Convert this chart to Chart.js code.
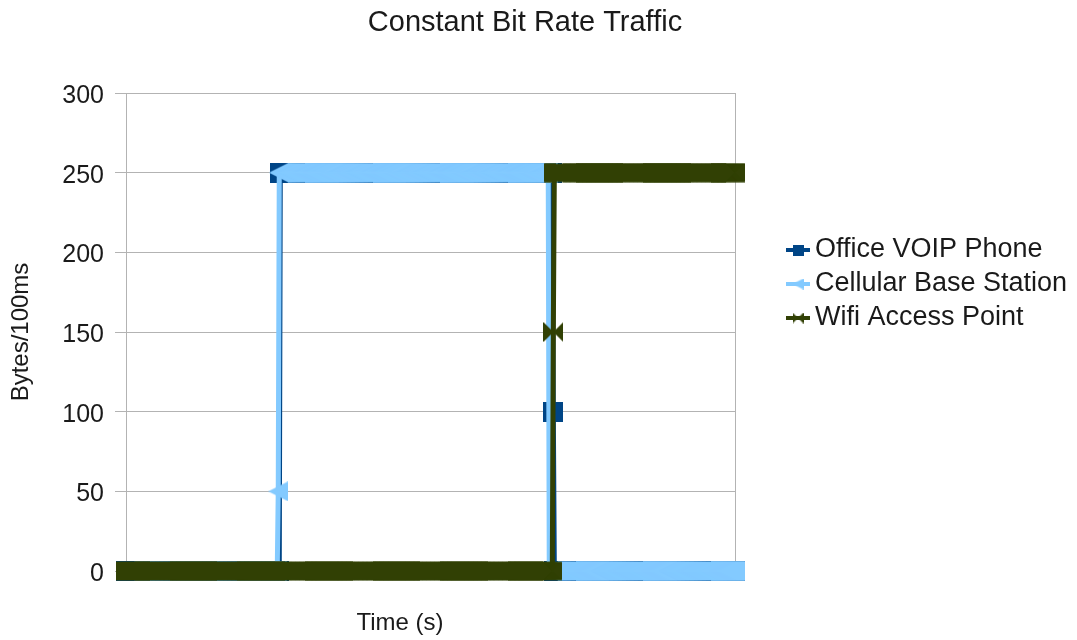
<!DOCTYPE html>
<html>
<head>
<meta charset="utf-8">
<title>Constant Bit Rate Traffic</title>
<script src="https://cdn.jsdelivr.net/npm/chart.js@4/dist/chart.umd.min.js"></script>
<style>
  html, body { margin: 0; padding: 0; background: #ffffff; }
  canvas { display: block; }
</style>
</head>
<body>
<canvas id="chart" width="1077" height="640"></canvas>
<script>
// Bytes per 100 ms sample, one value per time step (25 samples per row)
const voipPhone = [
  0,0,0,0,0,  0,0,0,0,0,  0,0,0,0,0,  0,0,0,0,0,  0,0,0,0,0,
  0,0,0,0,0,  0,0,0,0,0,  0,0,0,0,0,  0,0,0,0,0,  0,0,0,0,0,
  0,0,0,0,0,  0,0,0,0,0,  0,0,0,0,0,  0,0,0,0,0,  0,0,0,0,0,
  0,0,0,0,0,  0,0,0,0,0,  0,0,0,0,0,  0,0,0,0,0,  0,0,0,0,0,
  0,0,0,0,0,  0,0,0,0,0,  0,0,0,0,0,  0,0,0,0,0,  0,0,0,0,0,
  0,0,0,0,0,  0,0,0,0,0,  0,0,0,0,0,  0,0,0,0,0,  0,0,0,0,0,
  0,0,250,250,250,  250,250,250,250,250,  250,250,250,250,250,  250,250,250,250,250,  250,250,250,250,250,
  250,250,250,250,250,  250,250,250,250,250,  250,250,250,250,250,  250,250,250,250,250,  250,250,250,250,250,
  250,250,250,250,250,  250,250,250,250,250,  250,250,250,250,250,  250,250,250,250,250,  250,250,250,250,250,
  250,250,250,250,250,  250,250,250,250,250,  250,250,250,250,250,  250,250,250,250,250,  250,250,250,250,250,
  250,250,250,250,250,  250,250,250,250,250,  250,250,250,250,250,  250,250,250,250,250,  250,250,250,250,250,
  250,250,250,250,250,  250,250,250,250,250,  250,250,250,250,250,  250,250,250,250,250,  250,250,250,250,250,
  250,250,250,250,250,  250,250,250,250,250,  250,250,250,250,250,  250,250,250,250,250,  250,250,250,250,250,
  250,250,250,250,250,  250,250,250,250,250,  250,250,250,250,250,  250,250,250,250,250,  250,250,250,250,250,
  250,250,250,250,250,  250,250,250,250,250,  250,250,250,250,250,  250,250,250,250,250,  250,250,250,250,250,
  250,250,250,250,250,  250,250,250,250,250,  250,250,250,250,250,  250,250,250,250,250,  250,250,250,250,250,
  250,250,250,250,250,  250,250,250,250,250,  250,250,250,250,250,  250,250,250,250,250,  250,100,0,0,0,
  0,0,0,0,0,  0,0,0,0,0,  0,0,0,0,0,  0,0,0,0,0,  0,0,0,0,0,
  0,0,0,0,0,  0,0,0,0,0,  0,0,0,0,0,  0,0,0,0,0,  0,0,0,0,0,
  0,0,0,0,0,  0,0,0,0,0,  0,0,0,0,0,  0,0,0,0,0,  0,0,0,0,0,
  0,0,0,0,0,  0,0,0,0,0,  0,0,0,0,0,  0,0,0,0,0,  0,0,0,0,0,
  0,0,0,0,0,  0,0,0,0,0,  0,0,0,0,0,  0,0,0,0,0,  0,0,0,0,0,
  0,0,0,0,0,  0,0,0,0,0,  0,0,0,0,0,  0,0,0,0,0,  0,0,0,0,0,
  0,0,0,0,0,  0,0,0,0,0,  0,0,0,0,0,  0,0,0,0,0,  0,0,0,0,0,
  0
];

const cellularBase = [
  0,0,0,0,0,  0,0,0,0,0,  0,0,0,0,0,  0,0,0,0,0,  0,0,0,0,0,
  0,0,0,0,0,  0,0,0,0,0,  0,0,0,0,0,  0,0,0,0,0,  0,0,0,0,0,
  0,0,0,0,0,  0,0,0,0,0,  0,0,0,0,0,  0,0,0,0,0,  0,0,0,0,0,
  0,0,0,0,0,  0,0,0,0,0,  0,0,0,0,0,  0,0,0,0,0,  0,0,0,0,0,
  0,0,0,0,0,  0,0,0,0,0,  0,0,0,0,0,  0,0,0,0,0,  0,0,0,0,0,
  0,0,0,0,0,  0,0,0,0,0,  0,0,0,0,0,  0,0,0,0,0,  0,0,0,0,0,
  50,250,250,250,250,  250,250,250,250,250,  250,250,250,250,250,  250,250,250,250,250,  250,250,250,250,250,
  250,250,250,250,250,  250,250,250,250,250,  250,250,250,250,250,  250,250,250,250,250,  250,250,250,250,250,
  250,250,250,250,250,  250,250,250,250,250,  250,250,250,250,250,  250,250,250,250,250,  250,250,250,250,250,
  250,250,250,250,250,  250,250,250,250,250,  250,250,250,250,250,  250,250,250,250,250,  250,250,250,250,250,
  250,250,250,250,250,  250,250,250,250,250,  250,250,250,250,250,  250,250,250,250,250,  250,250,250,250,250,
  250,250,250,250,250,  250,250,250,250,250,  250,250,250,250,250,  250,250,250,250,250,  250,250,250,250,250,
  250,250,250,250,250,  250,250,250,250,250,  250,250,250,250,250,  250,250,250,250,250,  250,250,250,250,250,
  250,250,250,250,250,  250,250,250,250,250,  250,250,250,250,250,  250,250,250,250,250,  250,250,250,250,250,
  250,250,250,250,250,  250,250,250,250,250,  250,250,250,250,250,  250,250,250,250,250,  250,250,250,250,250,
  250,250,250,250,250,  250,250,250,250,250,  250,250,250,250,250,  250,250,250,250,250,  250,250,250,250,250,
  250,250,250,250,250,  250,250,250,250,250,  250,250,250,250,250,  250,250,0,0,0,  0,0,0,0,0,
  0,0,0,0,0,  0,0,0,0,0,  0,0,0,0,0,  0,0,0,0,0,  0,0,0,0,0,
  0,0,0,0,0,  0,0,0,0,0,  0,0,0,0,0,  0,0,0,0,0,  0,0,0,0,0,
  0,0,0,0,0,  0,0,0,0,0,  0,0,0,0,0,  0,0,0,0,0,  0,0,0,0,0,
  0,0,0,0,0,  0,0,0,0,0,  0,0,0,0,0,  0,0,0,0,0,  0,0,0,0,0,
  0,0,0,0,0,  0,0,0,0,0,  0,0,0,0,0,  0,0,0,0,0,  0,0,0,0,0,
  0,0,0,0,0,  0,0,0,0,0,  0,0,0,0,0,  0,0,0,0,0,  0,0,0,0,0,
  0,0,0,0,0,  0,0,0,0,0,  0,0,0,0,0,  0,0,0,0,0,  0,0,0,0,0,
  0
];

const wifiAccess = [
  0,0,0,0,0,  0,0,0,0,0,  0,0,0,0,0,  0,0,0,0,0,  0,0,0,0,0,
  0,0,0,0,0,  0,0,0,0,0,  0,0,0,0,0,  0,0,0,0,0,  0,0,0,0,0,
  0,0,0,0,0,  0,0,0,0,0,  0,0,0,0,0,  0,0,0,0,0,  0,0,0,0,0,
  0,0,0,0,0,  0,0,0,0,0,  0,0,0,0,0,  0,0,0,0,0,  0,0,0,0,0,
  0,0,0,0,0,  0,0,0,0,0,  0,0,0,0,0,  0,0,0,0,0,  0,0,0,0,0,
  0,0,0,0,0,  0,0,0,0,0,  0,0,0,0,0,  0,0,0,0,0,  0,0,0,0,0,
  0,0,0,0,0,  0,0,0,0,0,  0,0,0,0,0,  0,0,0,0,0,  0,0,0,0,0,
  0,0,0,0,0,  0,0,0,0,0,  0,0,0,0,0,  0,0,0,0,0,  0,0,0,0,0,
  0,0,0,0,0,  0,0,0,0,0,  0,0,0,0,0,  0,0,0,0,0,  0,0,0,0,0,
  0,0,0,0,0,  0,0,0,0,0,  0,0,0,0,0,  0,0,0,0,0,  0,0,0,0,0,
  0,0,0,0,0,  0,0,0,0,0,  0,0,0,0,0,  0,0,0,0,0,  0,0,0,0,0,
  0,0,0,0,0,  0,0,0,0,0,  0,0,0,0,0,  0,0,0,0,0,  0,0,0,0,0,
  0,0,0,0,0,  0,0,0,0,0,  0,0,0,0,0,  0,0,0,0,0,  0,0,0,0,0,
  0,0,0,0,0,  0,0,0,0,0,  0,0,0,0,0,  0,0,0,0,0,  0,0,0,0,0,
  0,0,0,0,0,  0,0,0,0,0,  0,0,0,0,0,  0,0,0,0,0,  0,0,0,0,0,
  0,0,0,0,0,  0,0,0,0,0,  0,0,0,0,0,  0,0,0,0,0,  0,0,0,0,0,
  0,0,0,0,0,  0,0,0,0,0,  0,0,0,0,0,  0,0,0,0,0,  0,150,250,250,250,
  250,250,250,250,250,  250,250,250,250,250,  250,250,250,250,250,  250,250,250,250,250,  250,250,250,250,250,
  250,250,250,250,250,  250,250,250,250,250,  250,250,250,250,250,  250,250,250,250,250,  250,250,250,250,250,
  250,250,250,250,250,  250,250,250,250,250,  250,250,250,250,250,  250,250,250,250,250,  250,250,250,250,250,
  250,250,250,250,250,  250,250,250,250,250,  250,250,250,250,250,  250,250,250,250,250,  250,250,250,250,250,
  250,250,250,250,250,  250,250,250,250,250,  250,250,250,250,250,  250,250,250,250,250,  250,250,250,250,250,
  250,250,250,250,250,  250,250,250,250,250,  250,250,250,250,250,  250,250,250,250,250,  250,250,250,250,250,
  250,250,250,250,250,  250,250,250,250,250,  250,250,250,250,250,  250,250,250,250,250,  250,250,250,250,250,
  250
];

const seriesNames = ['Office VOIP Phone', 'Cellular Base Station', 'Wifi Access Point'];
const yTicks = [0, 50, 100, 150, 200, 250, 300];

// time step labels (seconds), one per sample; not shown on the axis
const timeLabels = voipPhone.map((_, i) => (i / 10).toFixed(1));

const FONT = '"Liberation Sans", Arial, sans-serif';
const TEXT = '#1a1a1a';
const GRID = '#b3b3b3';
const COLORS = ['#004586', '#83caff', '#314004'];
const SHAPES = ['square', 'arrowLeft', 'bowtie'];

// Marker glyphs drawn onto small canvases and used as point styles
function makeMarker(shape, size, color) {
  const c = document.createElement('canvas');
  c.width = size; c.height = size;
  const g = c.getContext('2d');
  g.fillStyle = color;
  g.beginPath();
  if (shape === 'square') {
    g.rect(0, 0, size, size);
  } else if (shape === 'arrowLeft') {
    g.moveTo(0, size / 2);
    g.lineTo(size, 0);
    g.lineTo(size, size);
    g.closePath();
  } else if (shape === 'bowtie') {
    g.moveTo(0, 0);
    g.lineTo(size / 2, size / 2);
    g.lineTo(0, size);
    g.closePath();
    g.moveTo(size, 0);
    g.lineTo(size / 2, size / 2);
    g.lineTo(size, size);
    g.closePath();
  }
  g.fill();
  return c;
}

const plotMarkers = SHAPES.map((s, i) => makeMarker(s, 20, COLORS[i]));
const legendMarkers = SHAPES.map((s, i) => makeMarker(s, 11, COLORS[i]));

// Title, axis titles and legend painted on top of the chart
const decorations = {
  id: 'decorations',
  afterDraw(chart) {
    const g = chart.ctx;
    const area = chart.chartArea;
    g.save();
    g.fillStyle = TEXT;
    g.textAlign = 'center';
    g.textBaseline = 'middle';

    g.font = '29px ' + FONT;
    g.fillText('Constant Bit Rate Traffic', 525, 22.5);

    g.font = '24px ' + FONT;
    g.fillText('Time (s)', 400, 623);

    g.save();
    g.translate(21, (area.top + area.bottom) / 2);
    g.rotate(-Math.PI / 2);
    g.fillText('Bytes/100ms', 0, 0);
    g.restore();

    // legend
    const rowsY = [250, 284, 318];
    g.textAlign = 'left';
    g.font = '27px ' + FONT;
    chart.data.datasets.forEach((ds, i) => {
      const y = rowsY[i];
      g.strokeStyle = COLORS[i];
      g.lineWidth = 4;
      g.beginPath();
      g.moveTo(786, y);
      g.lineTo(810, y);
      g.stroke();
      const m = legendMarkers[i];
      g.drawImage(m, 798 - m.width / 2, y - m.height / 2);
      g.fillStyle = TEXT;
      g.fillText(ds.label, 815, y);
    });
    g.restore();
  }
};

const seriesData = [voipPhone, cellularBase, wifiAccess];
const lastIndex = timeLabels.length - 1;

new Chart(document.getElementById('chart'), {
  type: 'line',
  data: {
    labels: timeLabels,
    datasets: seriesData.map((values, i) => ({
      label: seriesNames[i],
      data: values,
      borderColor: COLORS[i],
      backgroundColor: COLORS[i],
      borderWidth: 5,
      pointStyle: plotMarkers[i],
      pointRadius: 10,
      pointHoverRadius: 10,
      pointBorderWidth: 0,
      tension: 0,
      fill: false,
      clip: false,
      order: 3 - i
    }))
  },
  options: {
    responsive: false,
    animation: false,
    events: [],
    layout: { padding: { top: 93, right: 342, bottom: 69, left: 0 } },
    plugins: {
      legend: { display: false },
      title: { display: false },
      tooltip: { enabled: false }
    },
    scales: {
      x: {
        type: 'category',
        offset: false,
        ticks: { display: false, autoSkip: false },
        grid: {
          drawTicks: false,
          color: (c) => (c.index === lastIndex ? GRID : 'rgba(0,0,0,0)'),
          lineWidth: 1
        },
        border: { display: false },
        afterFit: (s) => { s.height = 0; }
      },
      y: {
        min: 0,
        max: 300,
        afterBuildTicks: (s) => { s.ticks = yTicks.map(v => ({ value: v })); },
        ticks: {
          color: TEXT,
          padding: 11,
          labelOffset: 3,
          font: { family: FONT, size: 25 }
        },
        grid: { color: GRID, lineWidth: 1, tickLength: 11 },
        border: { display: true, color: GRID, width: 1 },
        afterFit: (s) => { s.width = 126; }
      }
    }
  },
  plugins: [decorations]
});
</script>
</body>
</html>
